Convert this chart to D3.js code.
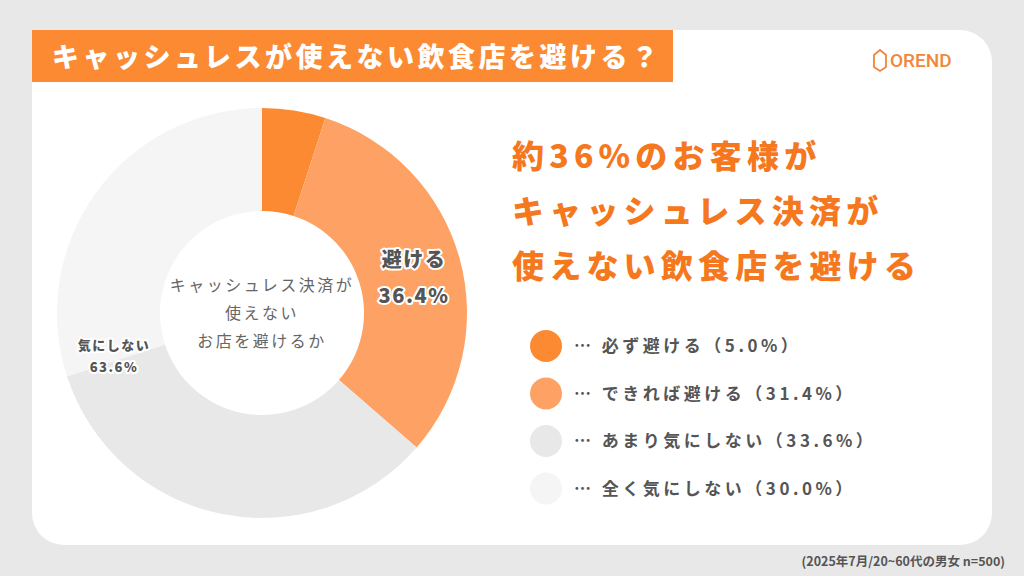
<!DOCTYPE html><html><head><meta charset="utf-8">
<script src="https://cdn.jsdelivr.net/npm/d3@7"></script>
<style>body{margin:0;background:#e8e8e8}svg{display:block;font-family:"Noto Sans CJK JP",sans-serif}</style></head><body>
<svg id="c" width="1024" height="576"></svg>
<script>
const categories=["必ず避ける","できれば避ける","あまり気にしない","全く気にしない"];
const values=[5.0,31.4,33.6,30.0];
const colors=["#fb8a33","#fda264","#e8e8e8","#f5f5f5"];
const groupLabels=[["避ける","36.4%"],["気にしない","63.6%"]];
const svg=d3.select("#c");
svg.append("rect").attr("x",32).attr("y",30).attr("width",960).attr("height",515).attr("rx",32).attr("fill","#fff");
svg.append("rect").attr("x",32).attr("y",30).attr("width",641).attr("height",52).attr("fill","#fb8a33");
svg.append("text").attr("x",52).attr("y",67).attr("fill","#fff").attr("font-size",27).attr("font-weight",900).attr("letter-spacing",3.5).text("キャッシュレスが使えない飲食店を避ける？");
const lg=svg.append("g").attr("transform","translate(872,50)");
lg.append("path").attr("d","M2,5 L8,0 L14,5 L14,17 L8,21 L2,17 Z").attr("fill","none").attr("stroke","#f0873a").attr("stroke-width",1.8);
lg.append("text").attr("x",18).attr("y",17).attr("fill","#f0873a").attr("font-size",19).attr("font-family","Roboto").attr("font-weight",500).text("OREND");
const cx=262,cy=313;
const pie=d3.pie().sort(null).value(d=>d)(values);
const arc=d3.arc().innerRadius(102).outerRadius(205);
const g=svg.append("g").attr("transform",`translate(${cx},${cy})`);
g.selectAll("path").data(pie).join("path").attr("d",arc).attr("fill",(d,i)=>colors[i]);
const ct=["キャッシュレス決済が","使えない","お店を避けるか"];
ct.forEach((t,i)=>g.append("text").attr("y",-22+i*28).attr("text-anchor","middle").attr("fill","#666").attr("font-size",16).attr("letter-spacing",2.5).text(t));
function lbl(x,y,lines,fs,gap){lines.forEach((t,i)=>{svg.append("text").attr("x",x).attr("y",y+i*gap).attr("text-anchor","middle").attr("font-size",fs).attr("font-weight",900).attr("fill","#555").attr("stroke","#fff").attr("stroke-width",4).attr("paint-order","stroke").attr("stroke-linejoin","round").attr("letter-spacing",1.5).text(t);});}
lbl(414,267,groupLabels[0],20,36);
lbl(114,350,groupLabels[1],13,22);
const head=["約36%のお客様が","キャッシュレス決済が","使えない飲食店を避ける"];
head.forEach((t,i)=>svg.append("text").attr("x",512).attr("y",168+i*55).attr("fill","#f5781e").attr("font-size",32).attr("font-weight",900).attr("letter-spacing",5.2).text(t));
categories.forEach((c,i)=>{const y=346+i*47.5;
svg.append("circle").attr("cx",546).attr("cy",y).attr("r",16).attr("fill",colors[i]);
svg.append("text").attr("x",574).attr("y",y+6).attr("fill","#555").attr("font-size",17).attr("font-weight",700).attr("letter-spacing",3.5).text(`… ${c}（${values[i].toFixed(1)}%）`);});
svg.append("text").attr("x",1005).attr("y",566).attr("text-anchor","end").attr("fill","#555").attr("font-size",12.5).attr("font-weight",700).text("(2025年7月/20~60代の男女  n=500)");
</script></body></html>
